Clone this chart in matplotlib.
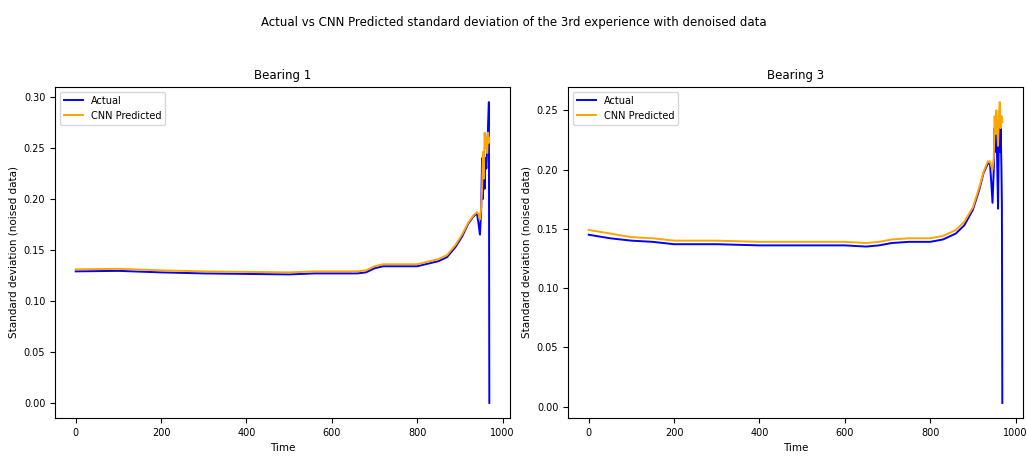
import matplotlib.pyplot as plt

# Bearing 1
b1_time = [0, 100, 200, 300, 400, 500, 560, 600, 660, 680, 700, 720, 760, 800, 830, 850,
           870, 890, 905, 920, 932, 940, 944, 947, 950, 952, 954, 956, 958, 960, 962, 964,
           966, 968, 969]
b1_actual = [0.129, 0.1295, 0.128, 0.127, 0.1265, 0.126, 0.127, 0.127, 0.127, 0.128, 0.132,
             0.134, 0.134, 0.134, 0.137, 0.139, 0.143, 0.153, 0.163, 0.176, 0.183, 0.186,
             0.175, 0.165, 0.19, 0.24, 0.20, 0.235, 0.21, 0.24, 0.23, 0.25, 0.27, 0.295, 0.0]
b1_pred = [0.131, 0.1315, 0.130, 0.129, 0.1285, 0.128, 0.129, 0.129, 0.129, 0.130, 0.134,
           0.136, 0.136, 0.136, 0.139, 0.141, 0.145, 0.155, 0.165, 0.177, 0.184, 0.187,
           0.185, 0.180, 0.192, 0.21, 0.246, 0.22, 0.265, 0.25, 0.26, 0.245, 0.265, 0.255, 0.26]

# Bearing 3
b3_time = [0, 50, 100, 150, 200, 300, 400, 500, 600, 650, 680, 710, 750, 800, 830, 860,
           880, 900, 915, 925, 935, 940, 943, 946, 949, 951, 953, 955, 957, 959, 961, 963,
           965, 967, 968, 969]
b3_actual = [0.145, 0.142, 0.140, 0.139, 0.137, 0.137, 0.136, 0.136, 0.136, 0.135, 0.136,
             0.138, 0.139, 0.139, 0.141, 0.146, 0.153, 0.166, 0.183, 0.197, 0.205, 0.205,
             0.19, 0.172, 0.2, 0.235, 0.215, 0.24, 0.205, 0.167, 0.235, 0.215, 0.24, 0.2,
             0.17, 0.003]
b3_pred = [0.149, 0.146, 0.143, 0.142, 0.140, 0.140, 0.139, 0.139, 0.139, 0.138, 0.139,
           0.141, 0.142, 0.142, 0.144, 0.149, 0.156, 0.168, 0.185, 0.198, 0.207, 0.207,
           0.203, 0.200, 0.21, 0.245, 0.23, 0.25, 0.235, 0.22, 0.245, 0.257, 0.235, 0.245,
           0.24, 0.24]

fig = plt.figure(figsize=(10.27, 4.59), dpi=100)
ax1 = fig.add_axes([55 / 1027, 41 / 459, 455 / 1027, 331 / 459])
ax2 = fig.add_axes([568 / 1027, 41 / 459, 455 / 1027, 331 / 459])

panels = [(ax1, 'Bearing 1', b1_time, b1_actual, b1_pred),
          (ax2, 'Bearing 3', b3_time, b3_actual, b3_pred)]
for ax, name, t, act, pred in panels:
    ax.plot(t, act, color='blue', lw=1.4, label='Actual')
    ax.plot(t, pred, color='orange', lw=1.4, label='CNN Predicted')
    ax.set_title(name, fontsize=8.5)
    ax.set_xlabel('Time', fontsize=7.5)
    ax.set_ylabel('Standard deviation (noised data)', fontsize=7.5)
    ax.tick_params(labelsize=7)
    ax.set_xticks([0, 200, 400, 600, 800, 1000])
    ax.legend(loc='upper left', fontsize=7)

fig.suptitle('Actual vs CNN Predicted standard deviation of the 3rd experience with denoised data',
             fontsize=8.5, y=0.965)
fig.savefig('out.png', dpi=100)
